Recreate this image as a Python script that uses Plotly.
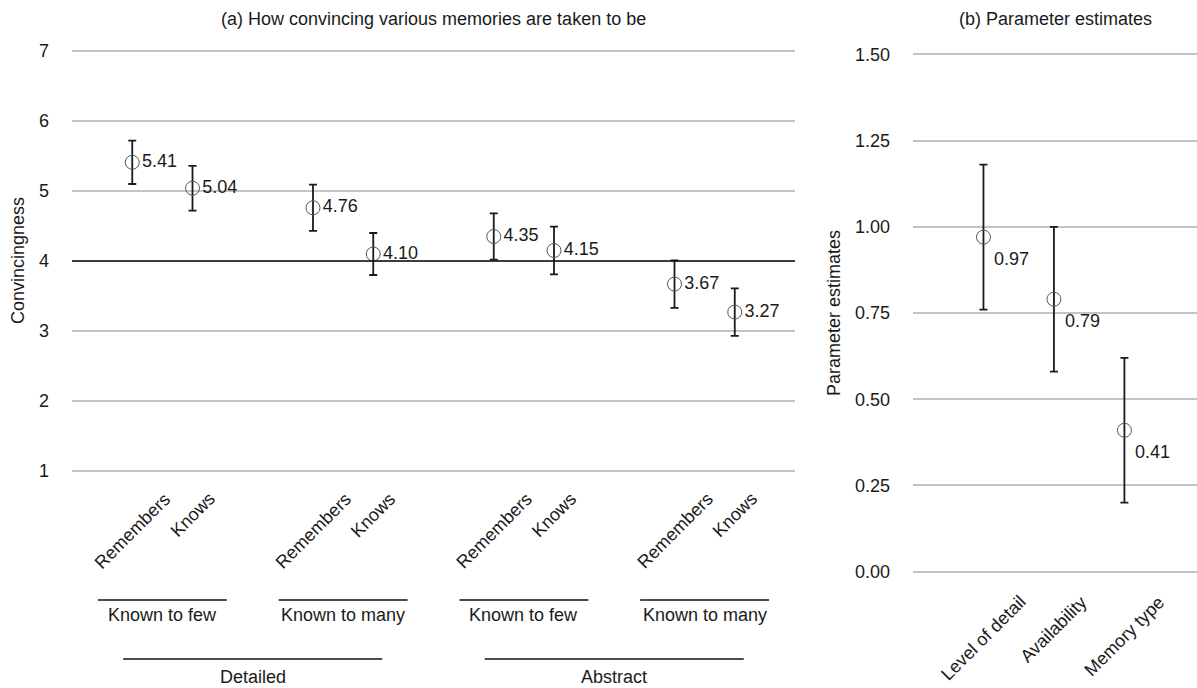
import plotly.graph_objects as go

# ---- data ----
memory_types = ["Remembers", "Knows", "Remembers", "Knows",
                "Remembers", "Knows", "Remembers", "Knows"]
availability = ["Known to few", "Known to many", "Known to few", "Known to many"]
detail = ["Detailed", "Abstract"]
convincingness = [5.41, 5.04, 4.76, 4.10, 4.35, 4.15, 3.67, 3.27]
convincingness_err = [0.31, 0.32, 0.33, 0.30, 0.33, 0.34, 0.34, 0.34]

params = ["Level of detail", "Availability", "Memory type"]
estimates = [0.97, 0.79, 0.41]
estimates_err = [0.21, 0.21, 0.21]

# ---- layout geometry (pixels) ----
W, H = 1197, 688
ML, MR, MT, MB = 72, 0, 44, 106
PW, PH = W - ML - MR, H - MT - MB
FONT = "Liberation Sans, Arial, sans-serif"
FS = 18


def py(px):
    """page y pixel -> paper y"""
    return (H - MB - px) / PH


def pxx(px):
    """page x pixel -> paper x"""
    return (px - ML) / PW


# category positions: pairs separated by gaps
xpos = []
for g in range(4):
    xpos += [3 * g + 1, 3 * g + 2]
xpos_b = list(range(1, len(params) + 1))

fig = go.Figure()

fig.add_trace(go.Scatter(
    x=xpos, y=convincingness, mode="markers+text",
    marker=dict(symbol="circle-open", size=14, color="#555555", line=dict(width=1)),
    error_y=dict(type="data", array=convincingness_err, color="#1a1a1a", thickness=1.8, width=4),
    text=[f"{v:.2f}" for v in convincingness], textposition="middle right",
    textfont=dict(family=FONT, size=FS, color="#1a1a1a"),
    xaxis="x", yaxis="y", showlegend=False, cliponaxis=False,
))

fig.add_trace(go.Scatter(
    x=xpos_b, y=estimates, mode="markers",
    marker=dict(symbol="circle-open", size=14, color="#555555", line=dict(width=1)),
    error_y=dict(type="data", array=estimates_err, color="#1a1a1a", thickness=1.8, width=4),
    xaxis="x2", yaxis="y2", showlegend=False, cliponaxis=False,
))

left_dom = [0, pxx(795)]
right_dom = [pxx(913), 1]

grid = "#c4c4c4"
fig.update_layout(
    width=W, height=H,
    margin=dict(l=ML, r=MR, t=MT, b=MB),
    plot_bgcolor="white", paper_bgcolor="white",
    font=dict(family=FONT, size=FS, color="#1a1a1a"),
    xaxis=dict(domain=left_dom, range=[0, 12], showgrid=False, zeroline=False,
               showticklabels=False, showline=False, fixedrange=True),
    yaxis=dict(domain=[py(478), 1], range=[0.9, 7.1], tickvals=[1, 2, 3, 4, 5, 6, 7],
               showgrid=True, gridcolor=grid, gridwidth=1.5, zeroline=False,
               ticklabelstandoff=22, tickfont=dict(size=FS)),
    xaxis2=dict(domain=right_dom, range=[0, 4.03], showgrid=False, zeroline=False,
                showticklabels=False, showline=False, anchor="y2"),
    yaxis2=dict(domain=[0, 1], range=[-0.03, 1.53], tickvals=[0, 0.25, 0.5, 0.75, 1.0, 1.25, 1.5],
                tickformat=".2f", anchor="x2",
                showgrid=True, gridcolor=grid, gridwidth=1.5, zeroline=False,
                ticklabelstandoff=22, tickfont=dict(size=FS)),
)

shapes = []
ann = []

# reference line at the scale midpoint
shapes.append(dict(type="line", xref="x domain", yref="y", x0=0, x1=1, y0=4, y1=4,
                   line=dict(color="#111111", width=1.6), layer="above"))

# rotated category labels, panel a
for x, lab in zip(xpos, memory_types):
    ann.append(dict(x=x, xref="x", y=py(486), yref="paper", text=lab, textangle=-45,
                    showarrow=False, xanchor="center", yanchor="top",
                    font=dict(size=FS)))

# availability groups
for i, lab in enumerate(availability):
    c = (xpos[2 * i] + xpos[2 * i + 1]) / 2
    shapes.append(dict(type="line", xref="x", yref="paper", x0=c - 1.07, x1=c + 1.07,
                       y0=py(600), y1=py(600), line=dict(color="#111111", width=1.5)))
    ann.append(dict(x=c, xref="x", y=py(615), yref="paper", text=lab, showarrow=False,
                    xanchor="center", yanchor="middle", font=dict(size=FS)))

# level-of-detail groups
for i, lab in enumerate(detail):
    c = (xpos[4 * i] + xpos[4 * i + 3]) / 2
    shapes.append(dict(type="line", xref="x", yref="paper", x0=c - 2.15, x1=c + 2.15,
                       y0=py(659), y1=py(659), line=dict(color="#111111", width=1.5)))
    ann.append(dict(x=c, xref="x", y=py(677), yref="paper", text=lab, showarrow=False,
                    xanchor="center", yanchor="middle", font=dict(size=FS)))

# value labels, panel b
for x, v in zip(xpos_b, estimates):
    ann.append(dict(x=x, xref="x2", y=v, yref="y2", text=f"{v:.2f}", showarrow=False,
                    xanchor="left", yanchor="middle", xshift=9, yshift=-22,
                    font=dict(size=FS)))

# rotated parameter labels, panel b
for x, lab in zip(xpos_b, params):
    ann.append(dict(x=x, xref="x2", y=py(589), yref="paper", text=lab, textangle=-45,
                    showarrow=False, xanchor="center", yanchor="top", font=dict(size=FS)))

# panel titles
ann.append(dict(x=(pxx(72) + pxx(795)) / 2, xref="paper", y=py(19), yref="paper",
                text="(a) How convincing various memories are taken to be",
                showarrow=False, xanchor="center", yanchor="middle", font=dict(size=18)))
ann.append(dict(x=(pxx(913) + 1) / 2, xref="paper", y=py(19), yref="paper",
                text="(b) Parameter estimates",
                showarrow=False, xanchor="center", yanchor="middle", font=dict(size=18)))

# axis titles
ann.append(dict(x=pxx(18), xref="paper", y=py(261), yref="paper", text="Convincingness",
                textangle=-90, showarrow=False, xanchor="center", yanchor="middle",
                font=dict(size=18)))
ann.append(dict(x=pxx(834), xref="paper", y=py(313), yref="paper", text="Parameter estimates",
                textangle=-90, showarrow=False, xanchor="center", yanchor="middle",
                font=dict(size=18)))

fig.update_layout(shapes=shapes, annotations=ann)
fig.write_html("out.html")
